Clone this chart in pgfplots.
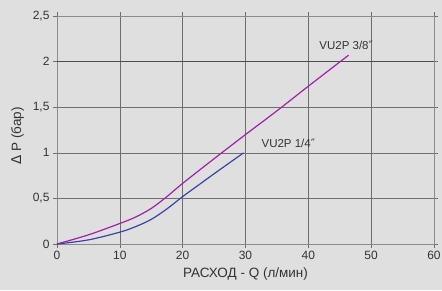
\documentclass[border=0pt]{standalone}
\usepackage{pgfplots}
\pgfplotsset{compat=1.18}
\usepackage{fontspec}
\setmainfont{Liberation Sans}
\newfontfamily\djfont{DejaVu Sans}
\definecolor{bg}{HTML}{DFDFDF}
\definecolor{gridc}{HTML}{6E6E6E}
\definecolor{txt}{HTML}{333333}
\definecolor{purp}{HTML}{A020A8}
\definecolor{blu}{HTML}{3A44A8}
\begin{document}
\begin{tikzpicture}[x=1pt,y=1pt]
\fill[bg] (0,0) rectangle (442,290);
\useasboundingbox (0,0) rectangle (442,290);
\begin{axis}[
  at={(57pt,46pt)}, anchor=south west,
  scale only axis, width=377pt, height=228pt,
  xmin=0, xmax=60, ymin=0, ymax=2.5,
  xtick={0,10,...,60},
  ytick={0,0.5,1,1.5,2,2.5},
  yticklabels={0,{0,5},1,{1,5},2,{2,5}},
  grid=major,
  major grid style={gridc, line width=0.6pt},
  axis line style={gridc!80, line width=0.8pt},
  tick style={gridc, line width=0.6pt},
  tick align=outside, major tick length=4pt,
  tick label style={font=\fontsize{12}{14}\selectfont, text=txt},
  /pgf/number format/assume math mode=true,
  xlabel={РАСХОД - Q (л/мин)},
  ylabel={{\djfont Δ} P (бар)},
  label style={font=\fontsize{13.5}{15}\selectfont, text=txt},
  xlabel style={yshift=-1pt},
  ylabel style={yshift=2pt, xshift=-6pt},
  clip=false,
]
\addplot[gridc!70!black, line width=1pt, forget plot] coordinates {(0,2) (60,2)};
\addplot[purp, line width=1.2pt, smooth] coordinates {
 (0,0) (5,0.10) (10,0.225) (12.5,0.295) (15,0.39) (17.5,0.52) (20,0.665) (25,0.935) (30,1.20) (35,1.46) (40,1.73) (46.4,2.07)};
\addplot[blu, line width=1.2pt, smooth] coordinates {
 (0,0) (5,0.045) (10,0.13) (12.5,0.19) (15,0.27) (17.5,0.385) (20,0.52) (22.5,0.645) (25,0.77) (29.7,1.0)};
\node[anchor=west, text=txt, font=\fontsize{11.5}{13}\selectfont] at (axis cs:41.2,2.18) {VU2P 3/8{\djfont ″}};
\node[anchor=west, text=txt, font=\fontsize{11.5}{13}\selectfont] at (axis cs:32.0,1.10) {VU2P 1/4{\djfont ″}};
\end{axis}
\end{tikzpicture}
\end{document}
